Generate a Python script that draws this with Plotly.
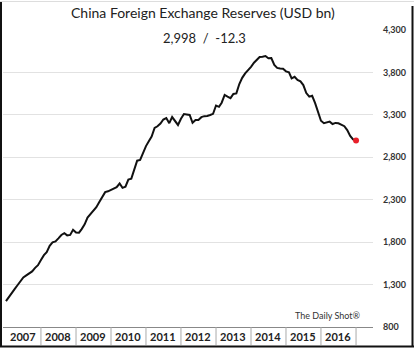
import plotly.graph_objects as go
import pandas as pd

# ---- data (USD bn, month-end) ----
reserves = [
    # 2007
    1104, 1158, 1202, 1247, 1292, 1333, 1385, 1409, 1434, 1455, 1497, 1528,
    # 2008
    1590, 1647, 1682, 1757, 1797, 1809, 1845, 1884, 1906, 1880, 1885, 1946,
    # 2009
    1913, 1912, 1954, 2009, 2090, 2132, 2175, 2211, 2273, 2328, 2389, 2399,
    # 2010
    2415, 2425, 2447, 2491, 2440, 2454, 2538, 2548, 2648, 2760, 2768, 2847,
    # 2011
    2932, 2991, 3045, 3145, 3166, 3198, 3245, 3263, 3202, 3274, 3221, 3181,
    # 2012
    3254, 3310, 3305, 3299, 3206, 3240, 3240, 3273, 3285, 3287, 3298, 3312,
    # 2013
    3410, 3395, 3443, 3535, 3515, 3497, 3547, 3553, 3663, 3736, 3789, 3821,
    # 2014
    3866, 3914, 3948, 3981, 3984, 3993, 3966, 3969, 3888, 3853, 3847, 3843,
    # 2015
    3813, 3802, 3730, 3748, 3711, 3694, 3651, 3557, 3514, 3525, 3438, 3330,
    # 2016
    3231, 3202, 3213, 3220, 3192, 3205, 3201, 3185, 3166, 3121, 3052, 3011,
    # 2017
    2998,
]
dates = pd.date_range("2007-01-01", periods=len(reserves), freq="MS")
years = [2007, 2008, 2009, 2010, 2011, 2012, 2013, 2014, 2015, 2016]
y_ticks = [800, 1300, 1800, 2300, 2800, 3300, 3800, 4300]
y_tick_labels = ["800", "1,300", "1,800", "2,300", "2,800", "3,300", "3,800", "4,300"]
title_text = "China Foreign Exchange Reserves (USD bn)"
subtitle_text = "2,998  /  -12.3"
source_text = "The Daily Shot®"

W, H = 414, 348
L, R, T, B = 3, 41, 30, 21  # plot area x: 3..373, y: 30..327
pw, ph = W - L - R, H - T - B


def px(x):
    return (x - L) / pw


def py(y):
    return (H - B - y) / ph


fig = go.Figure()
fig.add_trace(go.Scatter(
    x=dates, y=reserves, mode="lines",
    line=dict(color="#111111", width=2), hoverinfo="skip", showlegend=False,
))
fig.add_trace(go.Scatter(
    x=[dates[-1]], y=[reserves[-1]], mode="markers",
    marker=dict(color="#e8202a", size=6), hoverinfo="skip", showlegend=False,
))

shapes = []
# year separators below the axis
for yr in years[1:] + [years[-1] + 1]:
    shapes.append(dict(type="line", xref="x", yref="paper",
                       x0=f"{yr}-01-01", x1=f"{yr}-01-01",
                       y0=0, y1=py(345), line=dict(color="#aaaaaa", width=1)))
# white box behind subtitle
shapes.append(dict(type="rect", xref="paper", yref="paper",
                   x0=px(145), x1=px(263), y0=py(48), y1=py(26),
                   fillcolor="white", line=dict(width=0), layer="above"))
# frame
shapes.append(dict(type="line", xref="paper", yref="paper",
                   x0=px(1), x1=px(1), y0=py(1), y1=py(347),
                   line=dict(color="#111111", width=2)))
shapes.append(dict(type="line", xref="paper", yref="paper",
                   x0=px(412.5), x1=px(412.5), y0=py(6), y1=py(347),
                   line=dict(color="#111111", width=2)))
shapes.append(dict(type="line", xref="paper", yref="paper",
                   x0=px(0), x1=px(414), y0=py(346.5), y1=py(346.5),
                   line=dict(color="#111111", width=2)))
shapes.append(dict(type="line", xref="paper", yref="paper",
                   x0=px(0), x1=px(414), y0=py(1.5), y1=py(1.5),
                   line=dict(color="#dddddd", width=1)))

annotations = []
for yr in years:
    annotations.append(dict(x=f"{yr}-07-01", y=py(336), xref="x", yref="paper",
                            text=f"<b>{yr}</b>", showarrow=False,
                            font=dict(family="Lato", size=11, color="#222222"),
                            xanchor="center", yanchor="middle"))
annotations.append(dict(x=px(203), y=py(12), xref="paper", yref="paper",
                        text=title_text, showarrow=False,
                        font=dict(family="Lato", size=14, color="#222222"),
                        xanchor="center", yanchor="middle"))
annotations.append(dict(x=px(204), y=py(38), xref="paper", yref="paper",
                        text=subtitle_text, showarrow=False,
                        font=dict(family="Lato", size=13, color="#222222"),
                        xanchor="center", yanchor="middle"))
annotations.append(dict(x=px(363), y=py(315), xref="paper", yref="paper",
                        text=source_text, showarrow=False,
                        font=dict(family="Lato", size=9, color="#333333"),
                        xanchor="right", yanchor="middle"))

fig.update_layout(
    width=W, height=H,
    margin=dict(l=L, r=R, t=T, b=B),
    paper_bgcolor="white", plot_bgcolor="white",
    shapes=shapes, annotations=annotations,
    showlegend=False,
)
fig.update_xaxes(
    type="date", range=["2006-12-01", "2017-06-27"],
    showgrid=False, showticklabels=False, ticks="",
    showline=True, linecolor="#888888", linewidth=1, zeroline=False,
)
fig.update_yaxes(
    side="right", range=[800, 4300],
    tickvals=y_ticks, ticktext=[f"<b>{t}</b>" for t in y_tick_labels],
    tickfont=dict(family="Lato", size=9, color="#333333"),
    ticklabelstandoff=9,
    showgrid=True, gridcolor="#e2e2e2", gridwidth=1,
    showline=False, zeroline=False, ticks="",
)

fig.write_html("out.html")
